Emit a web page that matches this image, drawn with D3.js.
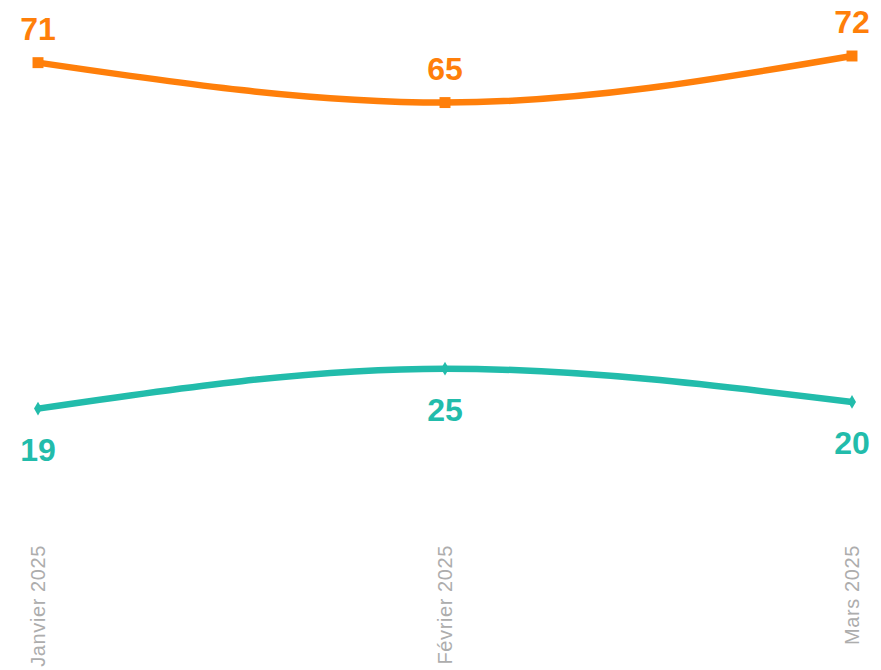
<!DOCTYPE html>
<html>
<head>
<meta charset="utf-8">
<script src="https://cdn.jsdelivr.net/npm/d3@7"></script>
<style>
  body { margin: 0; background: #fff; }
</style>
</head>
<body>
<div id="container"></div>
<script>
var width = 881;
var height = 670;

var months = ["Janvier 2025", "Février 2025", "Mars 2025"];
var seriesA = [71, 65, 72];
var seriesB = [19, 25, 20];

var orange = "#ff7f0a";
var teal = "#22bcab";

var svg = d3.select("#container").append("svg")
    .attr("width", width).attr("height", height);

var xScale = d3.scalePoint().domain(months).range([38, 852]);
var yScale = d3.scaleLinear().domain([0, 72]).range([535, 56]);

var line = d3.line()
    .x(function(d) { return xScale(d.month); })
    .y(function(d) { return yScale(d.value); })
    .curve(d3.curveMonotoneX);

function rows(values) {
    return values.map(function(v, i) { return {month: months[i], value: v}; });
}

var series = [
    {name: "a", color: orange, data: rows(seriesA), symbol: d3.symbolSquare, size: 120, dy: -23},
    {name: "b", color: teal, data: rows(seriesB), symbol: d3.symbolDiamond, size: 55, dy: 52}
];

// x axis labels, rotated
svg.append("g").selectAll("text")
    .data(months)
    .enter().append("text")
    .attr("transform", function(d) { return "translate(" + xScale(d) + ",545) rotate(-90)"; })
    .attr("text-anchor", "end")
    .attr("dy", "0.35em")
    .attr("fill", "#adadad")
    .attr("font-family", "'Liberation Sans', Arial, sans-serif")
    .attr("font-size", "20px")
    .attr("letter-spacing", "0.6px")
    .text(function(d) { return d; });

var groups = svg.selectAll("g.series")
    .data(series)
    .enter().append("g")
    .attr("class", "series");

groups.append("path")
    .attr("d", function(s) { return line(s.data); })
    .attr("fill", "none")
    .attr("stroke", function(s) { return s.color; })
    .attr("stroke-width", 6.5);

groups.each(function(s) {
    var g = d3.select(this);
    g.selectAll("path.marker")
        .data(s.data)
        .enter().append("path")
        .attr("class", "marker")
        .attr("d", d3.symbol().type(s.symbol).size(s.size))
        .attr("transform", function(d) { return "translate(" + xScale(d.month) + "," + yScale(d.value) + ")"; })
        .attr("fill", s.color);

    g.selectAll("text.label")
        .data(s.data)
        .enter().append("text")
        .attr("class", "label")
        .attr("x", function(d) { return xScale(d.month); })
        .attr("y", function(d) { return yScale(d.value) + s.dy; })
        .attr("text-anchor", "middle")
        .attr("fill", s.color)
        .attr("font-family", "'Liberation Sans', Arial, sans-serif")
        .attr("font-weight", "bold")
        .attr("font-size", "32px")
        .text(function(d) { return d.value; });
});
</script>
</body>
</html>
